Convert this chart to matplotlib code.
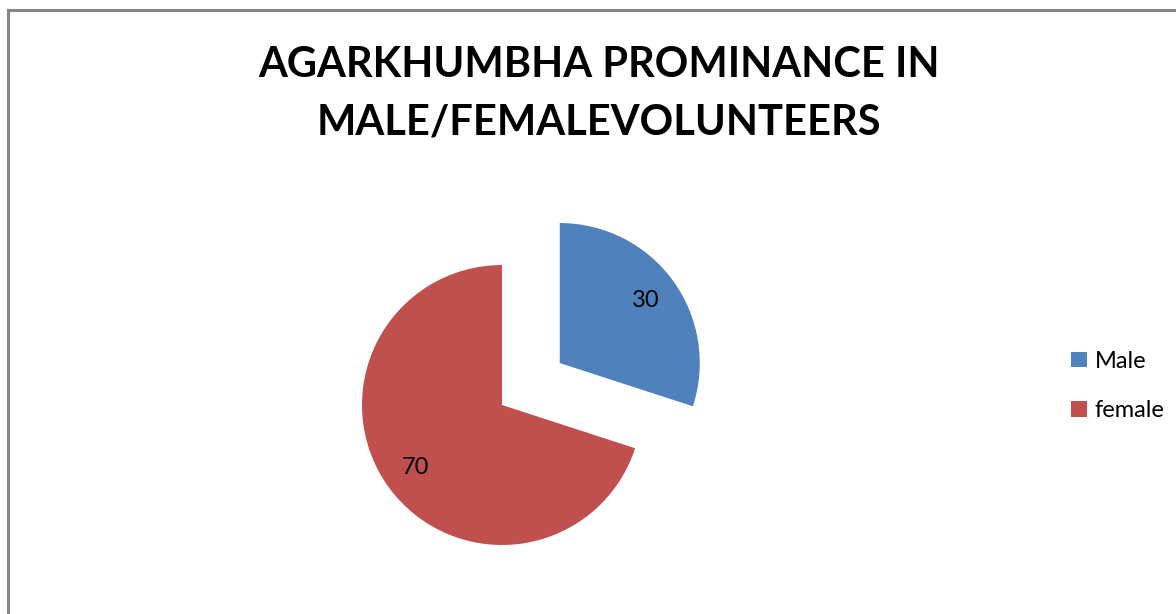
import matplotlib
matplotlib.use('Agg')
import matplotlib.pyplot as plt
from matplotlib.lines import Line2D

# Data
categories = ['Male', 'female']
values = [30, 70]
colors = ['#4F81BD', '#C0504D']
explode = [0.51, 0]
title = 'AGARKHUMBHA PROMINANCE IN\nMALE/FEMALEVOLUNTEERS'

plt.rcParams['font.family'] = ['Lato', 'DejaVu Sans']

W, H = 1176, 614
fig = plt.figure(figsize=(W / 100, H / 100), dpi=100)

# pie centre at (502, 405) px from top-left, radius 140 px
r_px = 140
cx, cy = 502, H - 405
half = 200
ax = fig.add_axes([(cx - half) / W, (cy - half) / H, 2 * half / W, 2 * half / H])
total = sum(values)
wedges, texts, autotexts = ax.pie(
    values, colors=colors, explode=explode, startangle=90, counterclock=False,
    autopct=lambda p: '%d' % round(p * total / 100), pctdistance=0.76,
    wedgeprops=dict(linewidth=0), textprops=dict(fontsize=17, color='black'))
lim = half / r_px
ax.set_xlim(-lim, lim)
ax.set_ylim(-lim, lim)
ax.set_aspect('equal')
ax.axis('off')

fig.text(599 / W, 1 - 94 / H, title, ha='center', va='center',
         fontsize=30, fontweight='bold', linespacing=1.62)

fig.legend(wedges, categories, loc='center left',
           bbox_to_anchor=(1050 / W, 1 - 386 / H), frameon=False,
           fontsize=17, handlelength=0.65, handleheight=0.65,
           handletextpad=0.35, labelspacing=1.2)

# chart-area border (left and top edges visible)
fig.add_artist(Line2D([8 / W, 8 / W], [0, 1 - 10 / H], transform=fig.transFigure,
                      color='#868686', linewidth=2.2))
fig.add_artist(Line2D([8 / W, 1], [1 - 10 / H, 1 - 10 / H], transform=fig.transFigure,
                      color='#868686', linewidth=2.2))

fig.savefig('out.png', dpi=100)
